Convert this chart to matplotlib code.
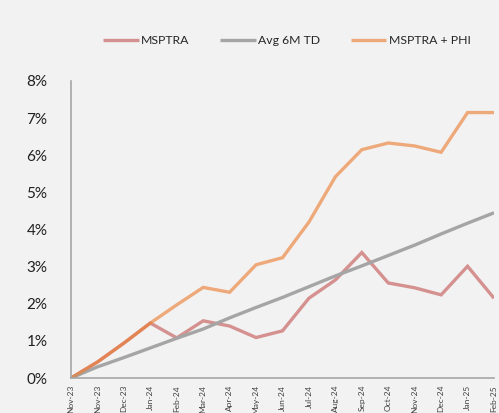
import matplotlib
matplotlib.use("Agg")
import matplotlib.pyplot as plt
from matplotlib.ticker import FuncFormatter

labels = ["Nov-23", "Nov-23", "Dec-23", "Jan-24", "Feb-24", "Mar-24", "Apr-24", "May-24",
          "Jun-24", "Jul-24", "Aug-24", "Sep-24", "Oct-24", "Nov-24", "Dec-24", "Jan-25", "Feb-25"]
msptra = [0.0, 0.43, 0.94, 1.48, 1.08, 1.54, 1.40, 1.09, 1.27, 2.15, 2.64, 3.38, 2.56, 2.43, 2.24, 3.01, 2.15]
avg6m = [0.0, 0.30, 0.55, 0.81, 1.07, 1.32, 1.62, 1.90, 2.17, 2.46, 2.75, 3.02, 3.30, 3.58, 3.88, 4.17, 4.45]
phi = [0.0, 0.43, 0.94, 1.48, 1.97, 2.44, 2.31, 3.05, 3.24, 4.20, 5.42, 6.15, 6.33, 6.25, 6.08, 7.15, 7.15]

plt.rcParams['font.family'] = ['Lato', 'DejaVu Sans']
bg = '#F2F2F2'
fig = plt.figure(figsize=(4.99, 4.13), dpi=100, facecolor=bg)
ax = fig.add_axes([71/499, 1-378/413, (494-71)/499, (378-81)/413], facecolor=bg)

x = list(range(len(labels)))
ax.plot(x, [v/100 for v in msptra], color='#C0504D', alpha=0.6, lw=2.4, label='MSPTRA',
        solid_capstyle='butt', solid_joinstyle='miter')
ax.plot(x, [v/100 for v in avg6m], color='#A5A5A5', lw=2.4, label='Avg 6M TD',
        solid_capstyle='butt', solid_joinstyle='miter')
ax.plot(x, [v/100 for v in phi], color='#ED7D31', alpha=0.62, lw=2.4, label='MSPTRA + PHI',
        solid_capstyle='butt', solid_joinstyle='miter')

ax.set_xlim(0, len(labels)-1)
ax.set_ylim(0, 0.08)
ax.set_yticks([i/100 for i in range(9)])
ax.yaxis.set_major_formatter(FuncFormatter(lambda v, p: f"{round(v*100)}%"))
ax.set_xticks(x)
ax.set_xticklabels(labels, rotation=90, fontsize=6, color='#404040')
ax.tick_params(axis='y', length=0, pad=17, labelsize=11, labelcolor='#202020')
ax.tick_params(axis='x', length=0, pad=5)
for s in ['top', 'right']:
    ax.spines[s].set_visible(False)
for s in ['left', 'bottom']:
    ax.spines[s].set_color('#A6A6A6')
    ax.spines[s].set_linewidth(1.2)

leg = fig.legend(loc='center', bbox_to_anchor=(287/499, 1-41/413), ncol=3, frameon=False,
                 fontsize=8.8, handlelength=2.9, handletextpad=0.2, columnspacing=2.5,
                 borderpad=0, borderaxespad=0)
for t in leg.get_texts():
    t.set_color('#262626')

fig.savefig('out.png', dpi=100, facecolor=bg)
